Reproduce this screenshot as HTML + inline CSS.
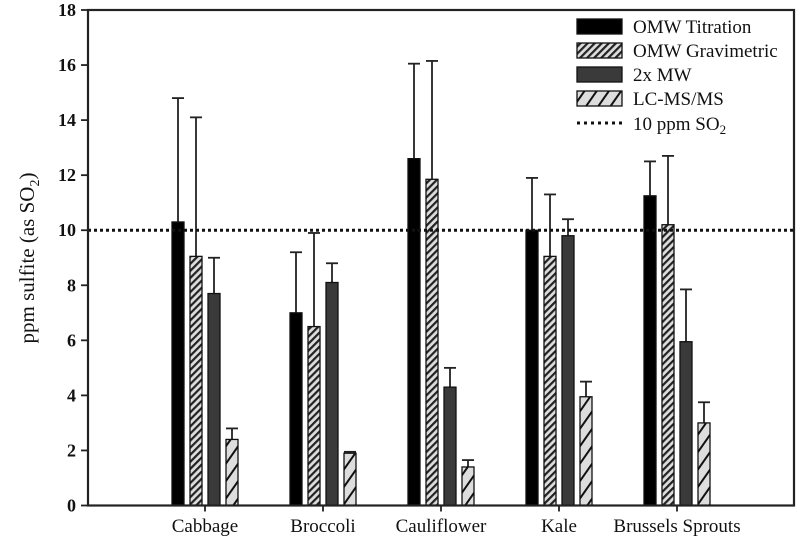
<!DOCTYPE html>
<html><head><meta charset="utf-8"><style>
body{margin:0;background:#fff}
svg text{font-family:"Liberation Serif",serif;fill:#111}
</style></head><body>
<svg width="800" height="547" viewBox="0 0 800 547" xmlns="http://www.w3.org/2000/svg">
<defs>
<pattern id="hatchDense" patternUnits="userSpaceOnUse" width="5" height="5" patternTransform="rotate(45)">
<rect width="5" height="5" fill="#ddd"/><rect width="2.2" height="5" fill="#222"/></pattern>
<pattern id="hatchLight" patternUnits="userSpaceOnUse" width="10" height="10" patternTransform="rotate(35)">
<rect width="10" height="10" fill="#ddd"/><rect width="2" height="10" fill="#111"/></pattern>
</defs>
<g id="plot"></g>
</svg>
<script>
const categories=["Cabbage","Broccoli","Cauliflower","Kale","Brussels Sprouts"];
const seriesNames=["OMW Titration","OMW Gravimetric","2x MW","LC-MS/MS"];
const omwTitration=[10.3,7.0,12.6,10.0,11.25];
const omwGravimetric=[9.05,6.5,11.85,9.05,10.2];
const mw2x=[7.7,8.1,4.3,9.8,5.95];
const lcmsms=[2.4,1.9,1.4,3.95,3.0];
const errTopTitration=[14.8,9.2,16.05,11.9,12.5];
const errTopGravimetric=[14.1,9.9,16.15,11.3,12.7];
const errTopMw=[9.0,8.8,5.0,10.4,7.85];
const errTopLc=[2.8,1.95,1.65,4.5,3.75];
const yTicks=[0,2,4,6,8,10,12,14,16,18];
const refLine=10;

const NS="http://www.w3.org/2000/svg";
const g=document.getElementById('plot');
const L=88,R=794,T=10,B=505.5,yMax=18;
const y=v=>B-(v/yMax)*(B-T);
const x=i=>205+i*118;
function el(tag,attrs,parent){const e=document.createElementNS(NS,tag);for(const k in attrs)e.setAttribute(k,attrs[k]);(parent||g).appendChild(e);return e;}

const series=[omwTitration,omwGravimetric,mw2x,lcmsms];
const errs=[errTopTitration,errTopGravimetric,errTopMw,errTopLc];
const fills=["#000","url(#hatchDense)","#3a3a3a","url(#hatchLight)"];
const offs=[-27,-9,9,27],bw=12;
categories.forEach((c,i)=>{
  series.forEach((s,j)=>{
    const cx=x(i)+offs[j];
    const eb=el('line',{x1:cx,x2:cx,y1:y(errs[j][i]),y2:y(s[i]),stroke:"#222","stroke-width":1.8});
    
    
    const cap=el('line',{x1:cx-6,x2:cx+6,y1:y(errs[j][i]),y2:y(errs[j][i]),stroke:"#222","stroke-width":1.8});
    
    
    const r=el('rect',{x:cx-bw/2,y:y(s[i]),width:bw,height:B-y(s[i]),fill:fills[j],stroke:"#111","stroke-width":1.3});
    
    
  });
  const tk=el('line',{x1:x(i),x2:x(i),y1:B,y2:B+6,stroke:"#222","stroke-width":1.8});
  
  
  const t=el('text',{x:x(i),y:532,"text-anchor":"middle","font-size":19});
  t.textContent=c;
  
  
});
yTicks.forEach(v=>{
  const tk=el('line',{x1:L-7,x2:L,y1:y(v),y2:y(v),stroke:"#222","stroke-width":1.8});
  
  
  const t=el('text',{x:L-12,y:y(v)+6,"text-anchor":"end","font-size":18,"font-weight":"bold"});
  t.textContent=v;
  
  
});
const rl=el('line',{x1:L,x2:R,y1:y(refLine),y2:y(refLine),stroke:"#111","stroke-width":3,"stroke-dasharray":"3 3"});


const fr=el('rect',{x:L,y:T,width:R-L,height:B-T,fill:"none",stroke:"#222","stroke-width":2.2});


const yl=el('text',{x:0,y:0,transform:"translate(34,258) rotate(-90)","text-anchor":"middle","font-size":21});
yl.innerHTML='ppm sulfite (as SO<tspan font-size="14" dy="5">2</tspan><tspan dy="-5">)</tspan>';


const leg=el('g',{});


seriesNames.forEach((n,j)=>{
  const yy=26+j*24;
  el('rect',{x:577,y:yy-7,width:45,height:15,fill:fills[j],stroke:"#111","stroke-width":1.3},leg);
  const t=el('text',{x:633,y:yy+7,"font-size":19},leg);
  t.textContent=n;
  
  
});
el('line',{x1:577,x2:622,y1:123,y2:123,stroke:"#111","stroke-width":3,"stroke-dasharray":"3 4"},leg);
const lt=el('text',{x:633,y:130,"font-size":19},leg);
lt.innerHTML='10 ppm SO<tspan font-size="13" dy="4">2</tspan>';


</script>
</body></html>
